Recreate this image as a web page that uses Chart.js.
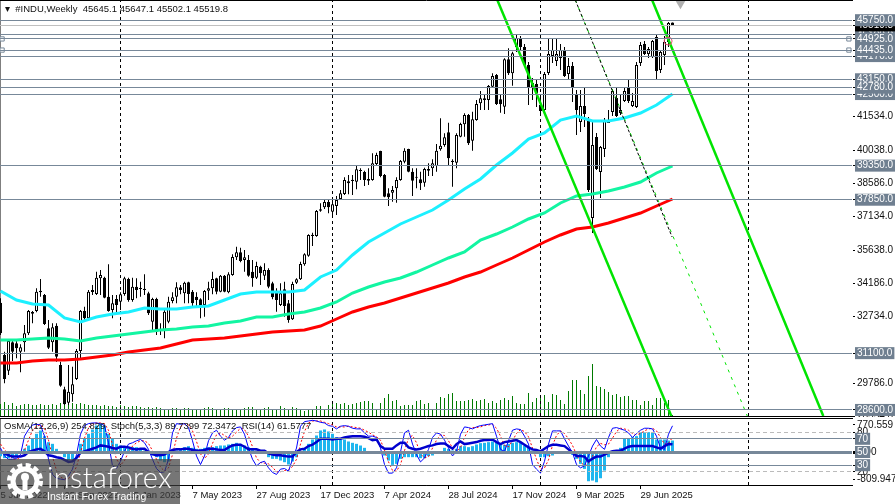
<!DOCTYPE html>
<html>
<head>
<meta charset="utf-8">
<title>#INDU Weekly</title>
<script src="https://cdn.jsdelivr.net/npm/chart.js@4"></script>
<style>
  html, body { margin: 0; padding: 0; background: #fff; }
  #page { position: relative; width: 895px; height: 504px; overflow: hidden; font-family: "Liberation Sans", Arial, sans-serif; }
  canvas { position: absolute; left: 0; }
  #priceChart { top: 0; }
  #oscChart { top: 418px; }
  .caption { position: absolute; white-space: pre; font-size: 9.5px; line-height: 12px; color: #111; }
  #watermark { position: absolute; left: 0; top: 459px; width: 180px; height: 45px; background: rgba(60, 60, 60, 0.7); color: #fff; }
  #wmBrand { position: absolute; left: 47px; top: 3px; font: 300 29px/30px Lato, sans-serif; letter-spacing: 0.3px; }
  #wmSlogan { position: absolute; left: 47px; top: 31px; font: 10.5px/13px "Liberation Sans", sans-serif; }
  #wmGear { position: absolute; left: 7px; top: 3px; }
</style>
</head>
<body>
<div id="page">
  <canvas id="priceChart" width="895" height="417"></canvas>
  <canvas id="oscChart" width="895" height="86"></canvas>
  <div class="caption" style="left:5px;top:3px">▾  #INDU,Weekly  45645.1 45647.1 45502.1 45519.8</div>
  <div class="caption" style="left:4px;top:420px">OsMA(12,26,9) 254.829  Stoch(5,3,3) 89.7399 72.3472  RSI(14) 61.5777</div>
  <div id="watermark">
    <svg id="wmGear" width="36" height="38" viewBox="0 0 36 38">
      <circle cx="18" cy="19" r="16" fill="none" stroke="#fff" stroke-width="4" stroke-dasharray="5 3.4"/>
      <circle cx="18" cy="19" r="12" fill="none" stroke="#fff" stroke-width="5"/>
      <circle cx="18" cy="15" r="4" fill="#fff"/>
      <rect x="15.5" y="17" width="5" height="11" fill="#fff"/>
    </svg>
    <div id="wmBrand">instaforex</div>
    <div id="wmSlogan">Instant Forex Trading</div>
  </div>
</div>

<script>
// weekly OHLC, one entry per bar
const opens = [
  33321,31018,30329,31575,31531,31165,31575,31971,32910,32954,
  33849,33658,32191,31575,32309,30578,29507,28921,29287,29962,
  31194,32954,32631,33790,33702,34391,34421,33585,32998,33482,
  33365,33702,34362,33438,34025,33922,33878,33731,32485,33482,
  32074,32118,32485,33394,33585,33995,33731,34215,33804,33585,
  33467,33218,33849,33951,34391,33805,34509,33775,34538,35315,
  35535,35198,35198,34685,34421,34905,34509,34758,34171,33848,
  33218,33907,33291,32587,34200,34347,35007,35388,36313,36254,
  37368,37515,37750,37325,37574,37882,38102,38571,38733,38645,
  39158,39070,38762,38718,39422,39994,38938,38131,38161,38351,
  38718,39525,40082,39085,38820,38747,38600,39202,39231,39334,
  40067,40258,40815,39510,39481,40625,41167,41578,40449,41358,
  42091,42311,42238,42825,43338,42267,41945,44027,43411,44570,
  44966,44570,43778,42986,42942,42018,41798,43426,44174,43954,
  44086,44438,43382,43734,42458,41270,41974,41314,37046,40610,
  39070,40082,41226,41710,42326,41666,42194,42810,41974,41930,
  43866,44702,44262,44130,45010,43558,44218,44790,45645.1
];
const highs = [
  33511,31165,31678,31634,31634,31487,32338,32998,32954,33951,
  34362,33702,32558,32411,32411,30725,29624,30578,30505,31282,
  32998,33145,33878,34098,34685,34758,34465,35007,33658,33658,
  33775,34465,34421,34421,34392,34245,34567,33805,33541,33541,
  32411,33071,33585,33775,34215,34098,34245,34245,33878,33775,
  33511,33878,34245,34685,34421,34538,34538,34655,35447,35785,
  35741,35638,35418,35198,35125,34949,35051,34832,34245,33951,
  34171,34244,33438,34245,34391,35125,35491,36327,36400,37398,
  37691,37838,37867,37838,38014,38278,38835,38938,38938,39334,
  39231,39129,39231,39891,39920,40009,38982,38351,38454,38835,
  39598,40111,40097,39231,39231,39085,39261,39451,39627,40302,
  41431,40771,41241,39627,40771,41241,41651,41622,41725,42238,
  42634,42458,42898,43411,43382,42458,44071,44511,44365,45098,
  45054,44702,43910,43206,43118,42458,43470,44966,44966,44966,
  44702,44570,44086,43910,42678,42678,42810,41490,41358,40786,
  40214,41446,41798,42722,42766,42458,42810,43118,42546,43910,
  44790,44834,44570,44878,45098,44438,45054,45670,45647.1
];
const lows = [
  31898,29771,30138,30754,30871,30255,31165,31898,32411,32895,
  33585,32338,31282,31165,30725,29624,28818,28818,28965,29918,
  30798,32485,32558,33658,33658,33658,33511,32925,32631,32851,
  32998,33629,33365,33365,33511,33585,33658,32778,32118,31898,
  31898,31751,32411,33291,33291,33687,33291,33291,33145,33145,
  32631,32705,33438,33687,33687,33775,33775,33731,34509,35198,
  35095,34685,34465,34025,34362,34098,34318,33951,33467,32924,
  33174,32705,32440,32558,34142,34318,34949,35345,35814,36224,
  37325,37442,37251,37149,37178,37838,38058,38087,38058,38307,
  38718,38454,38498,38689,39378,38835,37955,37574,37765,37721,
  38689,39451,39055,38014,38351,38278,38425,38894,38894,39085,
  40009,40185,39378,38425,39231,40595,40625,40258,40009,41329,
  41798,41798,41798,42795,42018,41681,41622,43338,42869,44350,
  44438,43690,42018,42238,41930,41666,41710,43338,43866,43734,
  43558,43250,43118,42150,40698,40830,41050,38190,36386,39158,
  37926,39730,41226,41534,41490,41578,42150,42106,41930,41886,
  43734,44218,44086,44086,43118,43426,43778,44570,45502.1
];
const closes = [
  31971,29962,31634,31165,31311,31355,31971,32954,32837,33805,
  33775,32382,31341,32235,30945,29669,28847,29405,29727,31194,
  32954,32631,33805,33878,34421,34538,33541,32954,33291,33218,
  33687,34391,33438,34025,33878,33966,33937,32851,33482,32045,
  32133,32925,33365,33555,33995,33878,34201,33702,33291,33438,
  33145,33834,33951,34362,33805,34509,33805,34567,35330,35535,
  35154,35315,34509,34391,34934,34611,34758,34025,33555,33438,
  33731,33174,32558,34142,34347,35022,35447,36298,36254,37354,
  37427,37750,37515,37647,37838,38131,38718,38659,38674,39187,
  39114,38718,38689,39451,39818,38894,37985,37955,38278,38718,
  39554,40009,39085,38689,38865,38571,39202,39129,39451,40009,
  40229,40595,39671,39569,40698,41182,41578,40331,41387,42062,
  42311,42238,42854,43294,42062,42047,44027,43411,44291,44966,
  44570,43778,42766,42766,42546,41754,43382,44262,44438,44262,
  44438,43294,43734,42766,41798,41974,41622,38278,40258,39202,
  40170,41358,41358,42634,41534,41798,42634,42194,42194,43778,
  44658,44262,44482,44834,43514,44350,44790,45626,45519.8
];
const volumes = [
  12,14,11,13,10,11,12,12,11,11,12,11,11,12,11,13,12,12,13,12,
  13,12,11,11,11,10,11,10,10,9,11,10,9,10,10,9,8,9,8,9,
  8,7,6,8,8,7,8,8,7,7,6,8,9,8,7,7,8,8,7,6,
  7,8,9,9,7,6,8,9,7,7,10,8,7,9,8,
  7,5,6,7,10,10,6,11,12,13,12,13,11,12,13,14,15,15,13,7,
  13,18,22,15,16,10,11,11,11,15,16,12,13,7,13,19,18,22,23,15,
  15,15,16,17,15,16,17,13,15,13,16,18,16,20,13,12,12,23,14,18,
  20,21,14,22,21,16,12,25,36,36,26,22,40,52,30,
  29,27,24,21,22,19,20,20,16,16,11,15,15,11,18,18,13,16,1
];

// moving averages, read every 4th bar
const maStep = 4;
const maFast = [
  33834,33438,33262,33218,32646,32470,32690,32822,32910,33086,33042,33042,33130,33174,33438,
  33702,33790,33790,33790,33878,34450,34758,35418,35990,36386,36782,37090,37398,37838,38322,
  38762,39378,39906,40522,40786,41358,41534,41314,41314,41446,41666,42018,42502
];
const maMid = [
  31678,31678,31722,31766,31722,31634,31766,31854,31942,32030,32118,32162,32250,32294,32426,
  32514,32690,32690,32822,32910,33086,33350,33746,34010,34230,34406,34670,34978,35286,35550,
  36078,36342,36650,37002,37266,37706,38014,38102,38234,38410,38630,39026,39334
];
const maSlow = [
  30666,30666,30754,30798,30798,30842,30930,31018,31150,31238,31326,31502,31678,31722,31766,
  31854,31942,32030,32074,32118,32294,32602,32910,33130,33306,33526,33746,33966,34186,34450,
  34670,34978,35286,35638,35990,36298,36562,36650,36826,37046,37266,37574,37882
];

// oscillator window
const osma = [
  -120,-168,-168,-168,-144,-24,56,136,296,416,496,360,216,176,56,-40,-144,-224,-200,-40,
  176,296,416,520,616,650,616,416,296,176,136,96,96,96,96,56,16,-40,-104,-144,
  -224,-264,-248,-64,16,56,96,120,80,56,56,80,96,96,120,136,136,160,176,200,
  176,136,96,56,16,0,-64,-144,-184,-184,-224,-264,-320,-248,-144,-24,72,176,280,376,
  496,520,472,416,336,280,280,232,200,176,136,80,0,0,0,-24,-104,-224,-328,-304,
  -184,-144,-144,-144,-144,-168,-168,-120,-104,-64,0,80,56,16,56,120,120,96,120,160,
  192,200,216,232,200,152,152,176,200,216,200,136,96,16,-40,-144,-144,-120,-104,-64,
  -8,-40,-8,-88,-184,-304,-424,-720,-704,-744,-648,-464,-144,-40,-40,80,296,296,336,360,
  456,456,456,440,280,280,280,256,254.8
];
const stochMain = [
  56,44,39,39,40,46,74,84,91,92,91,74,39,16,10,9,8,14,24,46,
  77,90,93,94,94,93,90,64,29,25,36,51,62,64,67,69,64,54,39,25,
  19,20,39,79,93,92,93,87,67,44,31,44,67,79,83,74,68,72,82,87,
  88,77,56,39,29,34,36,26,19,16,24,25,21,39,56,89,96,97,98,97,
  95,94,90,89,85,89,90,89,86,85,85,79,74,74,72,56,31,18,18,26,
  50,79,83,62,46,35,41,54,72,79,77,68,56,44,51,77,88,87,85,88,
  90,91,92,93,74,54,51,67,83,85,84,74,62,31,24,18,36,62,82,82,
  82,70,59,49,31,26,29,44,59,69,59,54,72,86,87,85,83,79,72,78,
  83,86,86,85,74,56,54,77,89.7
];
const stochSignal = [
  62,54,46,40,39,42,53,68,83,89,91,86,68,43,22,12,9,10,15,28,
  49,71,87,93,94,94,93,83,61,39,30,37,50,59,64,67,67,63,52,39,
  27,21,26,46,71,88,93,91,82,66,47,40,47,63,76,79,75,71,74,80,
  86,84,74,58,41,34,33,32,27,20,20,22,23,28,39,62,81,94,97,97,
  97,95,93,91,88,88,88,89,88,87,86,83,80,76,73,68,53,35,22,21,
  31,52,71,75,64,47,41,43,56,68,76,75,67,56,50,57,72,84,87,87,
  88,90,91,92,86,74,60,58,67,78,84,81,73,56,39,24,26,38,60,75,
  82,78,70,60,46,35,29,33,44,58,63,61,62,71,81,86,85,83,78,76,
  78,82,85,86,82,72,62,63,72.3
];
const rsi = [
  50,48,45,43,43,43,45,50,52,54,55,51,45,44,42,41,38,35,36,41,
  49,51,53,55,57,60,59,58,56,55,58,58,57,55,54,55,55,50,47,45,
  45,46,50,53,54,54,55,55,53,52,52,53,55,55,54,53,53,57,60,61,
  61,58,54,54,54,52,52,48,46,45,45,44,43,43,50,54,55,59,61,65,
  70,70,70,69,70,70,72,73,74,74,74,73,71,68,69,59,55,55,55,60,
  64,64,57,55,54,55,57,59,60,62,63,63,59,55,62,66,62,63,64,65,
  67,68,68,69,65,62,65,66,67,68,65,61,57,54,53,51,55,59,61,61,
  60,59,54,49,44,44,43,36,40,43,43,46,49,51,52,52,55,58,59,59,
  59,59,59,59,57,55,59,62,61.58
];

// right axis of the price window
const plainTicks = [41534, 40038, 38586, 37134, 35638, 34186, 32734, 29786, 28334];
const hiddenLevel = 45100;
const currentPrice = 45519.8;
const levelPrices = [45750, 44925, 44170, 44435, 43150, 42500, 42780, 39350, 37850, 31100, 28600];

// right axis of the oscillator window
const oscTickValues = [91, 50, 9, 80, 20, 70, 50, 30];
const oscTickLabels = ['770.559', '0.00', '-809.947', '80', '20', '70', '50', '30'];
const oscTickKinds = ['plain', 'plain', 'plain', 'dash', 'dash', 'level', 'mid', 'level'];

// time axis
const timeTickBars = [0, 16, 32, 48, 64, 80, 96, 112, 128, 144, 160];
const timeTickLabels = ['5 Jun 2022', '25 Sep 2022', '15 Jan 2023', '7 May 2023', '27 Aug 2023', '17 Dec 2023',
  '7 Apr 2024', '28 Jul 2024', '17 Nov 2024', '9 Mar 2025', '29 Jun 2025'];
const separatorBars = [30, 83, 135, 187];

// drawn objects, [bar, price] ends
const channelLower = [[124.2, 46638], [167.7, 28334]];
const channelUpper = [[162.9, 46638], [205.7, 28334]];
const channelMiddle = [[143.7, 46638], [186.7, 28334]];
const middleBlack = [[143.7, 46638], [167.9, 36210]];
const levelHandles = [44925, 44435];
const handleBars = [0.4, 212.1];
const markerCircle = [166.9, 44834];
const shiftMarker = [170, 46500];

const SLATE = '#778899';
const CLEAR = 'rgba(0,0,0,0)';
const PRICE_TOP = 46594;
const PRICE_BOTTOM = 28334;
const BAR_MIN = -0.125;   // keeps every bar on a whole pixel
const BAR_MAX = 212.875;
const AXIS_WIDTH = 43;

Chart.defaults.font.family = '"Liberation Sans", Arial, sans-serif';
Chart.defaults.font.size = 10;
Chart.defaults.color = '#111';

// top and bottom edge of each window
const panelFrame = {
  id: 'panelFrame',
  afterDraw(chart) {
    const { ctx, chartArea: a } = chart;
    ctx.save();
    ctx.strokeStyle = '#000';
    ctx.lineWidth = 1;
    ctx.beginPath();
    ctx.moveTo(0, a.top - 0.5);
    ctx.lineTo(a.right + 1, a.top - 0.5);
    ctx.moveTo(0, a.bottom + 0.5);
    ctx.lineTo(a.right + 1, a.bottom + 0.5);
    ctx.stroke();
    ctx.restore();
  }
};

const toXY = (points) => points.map(p => ({ x: p[0], y: p[1] }));

const lineSet = (data, color, width, extra) => Object.assign({
  type: 'line', data, borderColor: color, borderWidth: width,
  pointRadius: 0, tension: 0, fill: false
}, extra);

const markerSet = (data, extra) => Object.assign({
  type: 'line', data, showLine: false, clip: false
}, extra);

const barSet = (data, thickness, color, extra) => Object.assign({
  type: 'bar', data, barThickness: thickness, backgroundColor: color,
  grouped: false, inflateAmount: 0
}, extra);

const separators = (yMin, yMax, yAxisID, order) => separatorBars.map(b => lineSet(
  [{ x: b, y: yMin }, { x: b, y: yMax }], '#000', 1, { borderDash: [3, 3], yAxisID, order }
));

const maPoints = (values) => values.map((v, i) => ({ x: i * maStep, y: v }));

const rightAxisBase = (min, max, values, labelOf, kindOf) => ({
  position: 'right', min, max,
  afterBuildTicks: (scale) => { scale.ticks = values.map(v => ({ value: v })); },
  afterFit: (scale) => { scale.width = AXIS_WIDTH; scale.paddingTop = 0; scale.paddingBottom = 0; },
  border: {
    color: '#000',
    dash: (ctx) => (ctx.index !== undefined && kindOf(ctx.index) === 'dash') ? [4, 3] : []
  },
  grid: {
    z: 1,
    tickLength: 3,
    lineWidth: (ctx) => kindOf(ctx.index) === 'mid' ? 3 : 1,
    tickColor: '#000',
    color: (ctx) => {
      const kind = kindOf(ctx.index);
      if (kind === 'level' || kind === 'mid') return SLATE;
      if (kind === 'dash') return '#bbb';
      if (kind === 'current') return '#c0c0c0';
      return CLEAR;
    }
  },
  ticks: {
    autoSkip: false,
    padding: 2,
    crossAlign: 'near',
    callback: (value, index) => labelOf(index, value),
    color: (ctx) => ['level', 'mid', 'current'].includes(kindOf(ctx.index)) ? '#fff' : '#111',
    showLabelBackdrop: (ctx) => ['level', 'mid', 'current'].includes(kindOf(ctx.index)),
    backdropColor: (ctx) => kindOf(ctx.index) === 'current' ? '#000' : '#6f7f90',
    backdropPadding: { top: 0, bottom: 0, left: 2, right: 2 }
  }
});

// price window
const priceTicks = [...plainTicks, hiddenLevel, currentPrice, ...levelPrices];
const priceKind = (i) => {
  if (i === undefined || i < plainTicks.length) return 'plain';
  return priceTicks[i] === currentPrice ? 'current' : 'level';
};

const bars = opens.map((o, i) => i);

new Chart(document.getElementById('priceChart'), {
  type: 'bar',
  data: {
    datasets: [
      lineSet(toXY(channelLower), '#00e400', 2.5, { order: 2 }),
      lineSet(toXY(channelUpper), '#00e400', 2.5, { order: 2 }),
      lineSet(toXY(middleBlack), '#000', 1, { borderDash: [3, 2], order: 1 }),
      lineSet(toXY(channelMiddle), '#00e400', 1, { borderDash: [3, 5], order: 2 }),
      lineSet(maPoints(maFast), '#1cf0ff', 3, { order: 4 }),
      lineSet(maPoints(maMid), '#12f5a2', 3, { order: 4 }),
      lineSet(maPoints(maSlow), '#ff0000', 3, { order: 4 }),
      barSet(bars.map(i => ({ x: i, y: [opens[i], closes[i]] })), 3,
        bars.map(i => closes[i] >= opens[i] ? '#fff' : '#000'),
        { borderColor: '#000', borderWidth: 1, borderSkipped: false, order: 6 }),
      barSet(bars.map(i => ({ x: i, y: [lows[i], highs[i]] })), 1, '#000', { order: 7 }),
      barSet(volumes.map((v, i) => ({ x: i, y: v })), 1, '#007a00', { yAxisID: 'yVol', order: 9 }),
      ...separators(PRICE_BOTTOM, PRICE_TOP, 'y', 8),
      markerSet(levelHandles.flatMap(p => handleBars.map(b => ({ x: b, y: p }))), {
        pointStyle: 'rect', pointRadius: 3, borderWidth: 1, borderColor: SLATE, backgroundColor: '#fff', order: 0
      }),
      markerSet([{ x: markerCircle[0], y: markerCircle[1] }], {
        pointStyle: 'circle', pointRadius: 4, borderWidth: 1, borderColor: '#e8506e', backgroundColor: CLEAR, order: 0
      }),
      markerSet([{ x: shiftMarker[0], y: shiftMarker[1] }], {
        pointStyle: 'triangle', rotation: 180, pointRadius: 6, borderWidth: 0, backgroundColor: '#b0b0b0', order: 0
      })
    ]
  },
  options: {
    responsive: false,
    devicePixelRatio: 1,
    animation: false,
    events: [],
    layout: { autoPadding: false, padding: { top: 1, bottom: 1, left: 0, right: 0 } },
    plugins: { legend: { display: false }, tooltip: { enabled: false }, title: { display: false } },
    scales: {
      x: { type: 'linear', display: false, min: BAR_MIN, max: BAR_MAX, offset: false, grid: { offset: false } },
      y: rightAxisBase(PRICE_BOTTOM, PRICE_TOP, priceTicks,
        (i, value) => value.toFixed(1), priceKind),
      yVol: { display: false, min: 0, max: 415 }
    }
  },
  plugins: [panelFrame]
});

// oscillator window
const oscKind = (i) => i === undefined ? 'plain' : oscTickKinds[i];

new Chart(document.getElementById('oscChart'), {
  type: 'bar',
  data: {
    datasets: [
      lineSet(rsi.map((v, i) => ({ x: i, y: v })), '#0000cd', 2.5, { order: 1 }),
      lineSet(stochMain.map((v, i) => ({ x: i, y: v })), '#0000ff', 1, { order: 2 }),
      lineSet(stochSignal.map((v, i) => ({ x: i, y: v })), '#ff0000', 1, { borderDash: [2, 2], order: 3 }),
      barSet(osma.map((v, i) => ({ x: i, y: v })), 3, '#1fb6ee', { yAxisID: 'yOsma', order: 5 }),
      ...separators(0, 100, 'y', 6)
    ]
  },
  options: {
    responsive: false,
    devicePixelRatio: 1,
    animation: false,
    events: [],
    layout: { autoPadding: false, padding: { top: 1, bottom: 0, left: 0, right: 0 } },
    plugins: { legend: { display: false }, tooltip: { enabled: false }, title: { display: false } },
    scales: {
      x: {
        type: 'linear', min: BAR_MIN, max: BAR_MAX, offset: false,
        afterBuildTicks: (scale) => { scale.ticks = timeTickBars.map(b => ({ value: b })); },
        afterFit: (scale) => { scale.height = 19; scale.paddingLeft = 0; scale.paddingRight = 0; },
        border: { color: '#000' },
        grid: { drawOnChartArea: false, offset: false, tickLength: 4, color: '#000' },
        ticks: {
          autoSkip: false, maxRotation: 0, minRotation: 0, align: 'start', padding: 1,
          font: { size: 9.5 },
          callback: (value, index) => timeTickLabels[index]
        }
      },
      y: rightAxisBase(0, 100, oscTickValues, (i) => oscTickLabels[i], oscKind),
      yOsma: { display: false, min: -809.947, max: 770.559 }
    }
  },
  plugins: [panelFrame]
});
</script>
</body>
</html>
